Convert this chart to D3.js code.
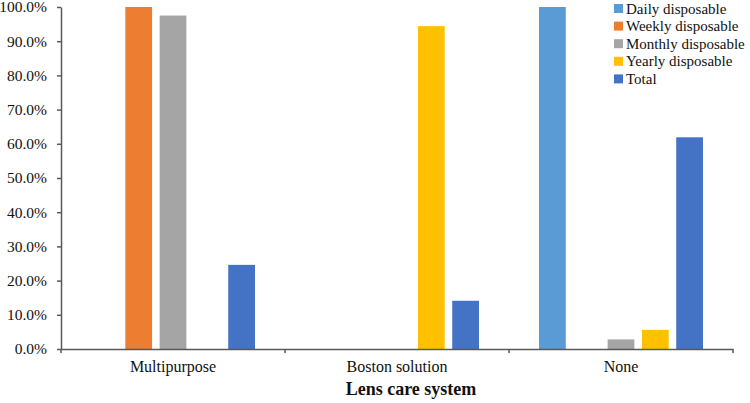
<!DOCTYPE html>
<html>
<head>
<meta charset="utf-8">
<script src="https://cdn.jsdelivr.net/npm/d3@7"></script>
<style>
  body { margin: 0; background: #fff; }
</style>
</head>
<body>
<svg id="chart" width="750" height="403"></svg>
<script>
// datos
const categorias = ["Multipurpose", "Boston solution", "None"];
const series = ["Daily disposable", "Weekly disposable", "Monthly disposable", "Yearly disposable", "Total"];
const daily = [0, 0, 100];
const weekly = [100, 0, 0];
const monthly = [97.5, 0, 2.8];
const yearly = [0, 94.4, 5.6];
const total = [24.6, 14.1, 61.9];
const yTicks = [0, 10, 20, 30, 40, 50, 60, 70, 80, 90, 100];
const colores = ["#5B9BD5", "#ED7D31", "#A5A5A5", "#FFC000", "#4472C4"];

const valores = [daily, weekly, monthly, yearly, total];
const fuente = "'Liberation Serif', 'Times New Roman', 'DejaVu Serif', serif";

const svg = d3.select("#chart");
const margenIzq = 61, margenDer = 733, margenSup = 7, margenInf = 349;

const x0 = d3.scaleBand().domain(categorias).range([margenIzq, margenDer]).padding(0);
const x1 = d3.scaleBand().domain(series).range([0, x0.bandwidth()])
    .paddingInner(0.22).paddingOuter(0.875);
const y = d3.scaleLinear().domain([0, 100]).range([margenInf, margenSup]);
const color = d3.scaleOrdinal().domain(series).range(colores);

// barras
categorias.forEach((c, i) => {
    series.forEach((s, j) => {
        const v = valores[j][i];
        if (v <= 0) return;
        svg.append("rect")
            .attr("x", x0(c) + x1(s))
            .attr("y", y(v))
            .attr("width", x1.bandwidth())
            .attr("height", y(0) - y(v))
            .attr("fill", color(s));
    });
});

// eje Y
const ejeY = svg.append("g")
    .attr("transform", `translate(${margenIzq},0)`)
    .call(d3.axisLeft(y).tickValues(yTicks).tickSize(4).tickSizeOuter(0).tickPadding(10)
        .tickFormat(d => d.toFixed(1) + "%"));
ejeY.attr("font-family", fuente);
ejeY.select(".domain").attr("stroke", "#595959").attr("stroke-width", 1.5);
ejeY.selectAll(".tick line").attr("stroke", "#595959").attr("stroke-width", 1.5);
ejeY.selectAll("text").style("font-size", "15.5px").style("font-family", fuente).attr("fill", "#111");

// eje X
const ejeX = svg.append("g")
    .attr("transform", `translate(0,${margenInf})`)
    .call(d3.axisBottom(x0).tickSize(0).tickSizeOuter(0).tickPadding(12));
ejeX.attr("font-family", fuente);
ejeX.select(".domain").attr("stroke", "#595959").attr("stroke-width", 1.5);
ejeX.selectAll("text").style("font-size", "16px").style("font-family", fuente).attr("fill", "#111");

// marcas entre categorias
const limites = categorias.map(c => x0(c)).concat([margenDer]);
svg.selectAll("line.limite")
    .data(limites)
    .enter().append("line")
    .attr("class", "limite")
    .attr("x1", d => d).attr("x2", d => d)
    .attr("y1", margenInf).attr("y2", margenInf + 4)
    .attr("stroke", "#595959").attr("stroke-width", 1.5);

// titulo del eje
svg.append("text")
    .attr("x", 411)
    .attr("y", 395)
    .attr("text-anchor", "middle")
    .style("font-family", fuente)
    .style("font-size", "18px")
    .style("font-weight", "bold")
    .attr("fill", "#111")
    .text("Lens care system");

// leyenda
const leyenda = svg.append("g");
series.forEach((s, i) => {
    const yy = 13.5 + i * 17.6;
    leyenda.append("rect")
        .attr("x", 614).attr("y", yy - 9.5)
        .attr("width", 9).attr("height", 9)
        .attr("fill", color(s));
    leyenda.append("text")
        .attr("x", 626).attr("y", yy)
        .style("font-family", fuente)
        .style("font-size", "15px")
        .attr("fill", "#111")
        .text(s);
});
</script>
</body>
</html>
